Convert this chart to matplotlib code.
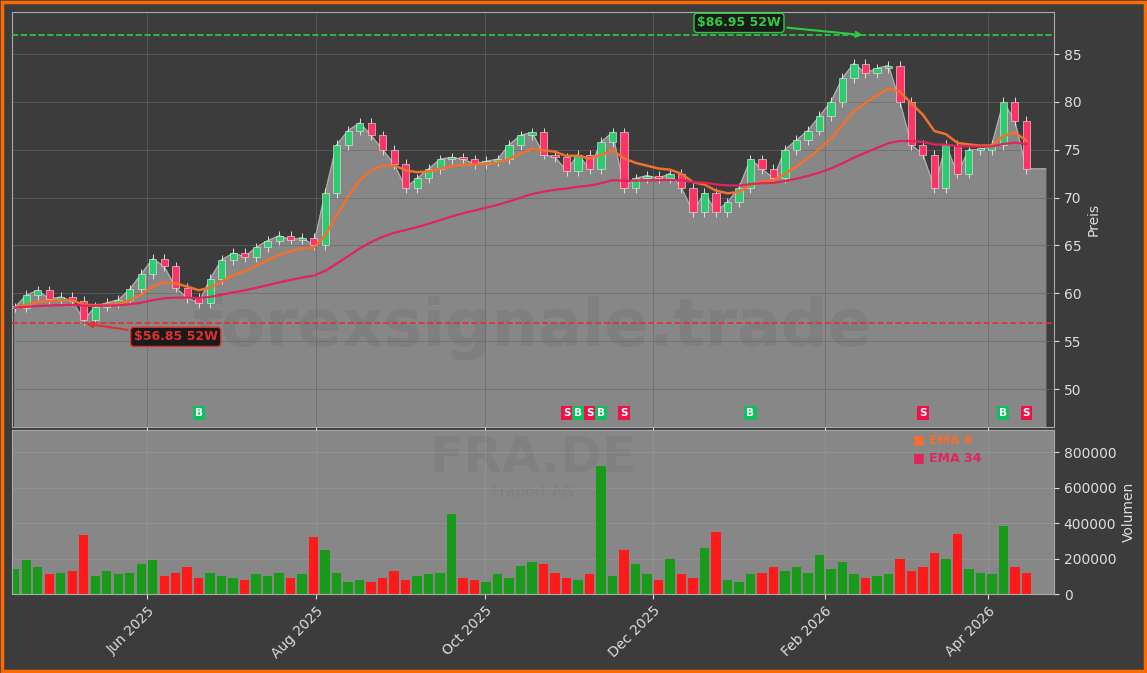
import numpy as np
import pandas as pd
import matplotlib
matplotlib.use("Agg")
import matplotlib.pyplot as plt
import matplotlib.dates as mdates

# ---- data (one bar ~ 3 trading days) ----
closes = [58.5, 59.8, 60.3, 59.4, 59.6, 59.2, 57.2, 58.6, 59.0, 59.3,
          60.4, 62.0, 63.6, 62.8, 60.6, 59.5, 59.0, 61.5, 63.5, 64.2,
          63.8, 64.8, 65.5, 66.0, 65.6, 65.8, 65.0, 70.5, 75.5, 77.0,
          77.8, 76.5, 75.0, 73.5, 71.0, 72.0, 73.0, 74.0, 74.2, 74.0,
          73.5, 73.8, 74.0, 75.5, 76.5, 76.8, 74.5, 74.2, 72.8, 74.5,
          73.0, 75.8, 76.8, 71.0, 72.0, 72.3, 72.0, 72.5, 71.0, 68.5,
          70.5, 68.5, 69.5, 71.0, 74.0, 73.0, 72.0, 75.0, 76.0, 77.0,
          78.5, 80.0, 82.5, 84.0, 83.0, 83.5, 83.8, 80.0, 75.5, 74.5,
          71.0, 75.5, 72.5, 75.0, 75.0, 75.5, 80.0, 78.0, 73.0]
volumes = [140, 190, 150, 110, 120, 130, 330, 100, 130, 110,
           120, 170, 190, 100, 120, 150, 90, 120, 100, 90,
           80, 110, 100, 120, 90, 110, 320, 250, 120, 70,
           80, 70, 90, 130, 80, 100, 110, 120, 450, 90,
           80, 70, 110, 90, 160, 180, 170, 120, 90, 80,
           110, 720, 100, 250, 170, 110, 80, 200, 110, 90,
           260, 350, 80, 70, 110, 120, 150, 130, 150, 120,
           220, 140, 180, 110, 90, 100, 110, 200, 130, 150,
           230, 200, 340, 140, 120, 110, 385, 150, 120]
buy_idx = [16, 49, 51, 64, 86]
sell_idx = [48, 50, 53, 79, 88]
high_52w, low_52w = 86.95, 56.85
high_52w_idx, low_52w_idx = 74, 6

dates = pd.date_range("2025-04-14", "2026-04-15", periods=len(closes))
c = pd.Series(closes, index=dates)
o = c.shift(1).fillna(c.iloc[0])
hi = np.maximum(o, c) + 0.5
lo = np.minimum(o, c) - 0.5
vol = np.array(volumes) * 1000
ema8 = c.ewm(span=8, adjust=False).mean()
ema34 = c.ewm(span=34, adjust=False).mean()

BG = "#3c3c3c"
FILL = "#878787"
fig = plt.figure(figsize=(11.47, 6.73), dpi=100, facecolor=BG)
fig.patches.append(plt.Rectangle((0.002, 0.003), 0.996, 0.994, transform=fig.transFigure,
                                 fill=False, ec="#ff6a00", lw=2.5))
ax = fig.add_axes([12/1147, 1-427/673, 1042/1147, 415/673], facecolor=BG)
axv = fig.add_axes([12/1147, 1-594/673, 1042/1147, 164/673], facecolor=FILL, sharex=ax)

xend = pd.Timestamp("2026-04-22")
ax.fill_between(list(dates) + [xend], list(closes) + [closes[-1]], 0, color=FILL, zorder=1)
ax.plot(list(dates) + [xend], list(closes) + [closes[-1]], color="#b0b0b0", lw=0.8, zorder=2)
w = pd.Timedelta(days=2.6)
for d, op, cl, h, l in zip(dates, o, c, hi, lo):
    col = "#2ecc71" if cl >= op else "#ff3366"
    ax.vlines(d, l, h, color="#dddddd", lw=0.7, zorder=3)
    ax.bar(d, max(abs(cl - op), 0.15), bottom=min(op, cl), width=w, color=col,
           edgecolor="#eeeeee", lw=0.4, zorder=4)
ax.plot(dates, ema8, color="#f07030", lw=1.8, zorder=5)
ax.plot(dates, ema34, color="#e0245e", lw=1.6, zorder=5)

ax.axhline(high_52w, color="#2ecc40", ls="--", lw=1.2, zorder=5)
ax.axhline(low_52w, color="#e03030", ls="--", lw=1.2, zorder=5)
ax.annotate(f"${high_52w:.2f} 52W", xy=(dates[high_52w_idx], high_52w),
            xytext=(dates[high_52w_idx - 11], high_52w + 1.3), color="#2ecc40",
            fontsize=9, fontweight="bold", ha="center", va="center",
            bbox=dict(boxstyle="round,pad=0.25", fc="#1a1a1a", ec="#2ecc40"),
            arrowprops=dict(arrowstyle="->", color="#2ecc40", lw=1.5), zorder=8)
ax.annotate(f"${low_52w:.2f} 52W", xy=(dates[low_52w_idx], low_52w),
            xytext=(dates[low_52w_idx + 8], low_52w - 1.4), color="#e03030",
            fontsize=9, fontweight="bold", ha="center", va="center",
            bbox=dict(boxstyle="round,pad=0.25", fc="#1a1a1a", ec="#e03030"),
            arrowprops=dict(arrowstyle="->", color="#e03030", lw=1.5), zorder=8)

for i in buy_idx:
    ax.text(dates[i], 47.5, "B", color="white", fontsize=7.5, fontweight="bold", ha="center",
            va="center", bbox=dict(boxstyle="square,pad=0.2", fc="#0fbf5f", ec="none"), zorder=8)
for i in sell_idx:
    ax.text(dates[i], 47.5, "S", color="white", fontsize=7.5, fontweight="bold", ha="center",
            va="center", bbox=dict(boxstyle="square,pad=0.2", fc="#f0104a", ec="none"), zorder=8)

ax.text(0.5, 0.24, "forexsignale.trade", transform=ax.transAxes, fontsize=47,
        fontweight="bold", color="#7f7f7f", ha="center", va="center", zorder=1.5)
axv.text(0.5, 0.83, "FRA.DE", transform=axv.transAxes, fontsize=36, fontweight="bold",
         color="#808080", ha="center", va="center", zorder=0.5)
axv.text(0.5, 0.62, "Fraport AG", transform=axv.transAxes, fontsize=11,
         color="#808080", ha="center", va="center", zorder=0.5)

ax.set_ylim(46.03, 89.39)
ax.set_xlim(pd.Timestamp("2025-04-13"), pd.Timestamp("2026-04-25"))
ax.yaxis.tick_right()
ax.yaxis.set_label_position("right")
ax.set_yticks([50, 55, 60, 65, 70, 75, 80, 85])
ax.set_ylabel("Preis", color="#dddddd")
ax.grid(color="#666666", lw=0.6, alpha=0.7)
ax.tick_params(colors="#dddddd", labelbottom=False)

vcols = ["#1a9a1a" if cl >= op else "#ff1a1a" for op, cl in zip(o, c)]
axv.bar(dates, vol, width=pd.Timedelta(days=3.4), color=vcols, zorder=2)
axv.set_ylim(0, 924000)
axv.yaxis.tick_right()
axv.yaxis.set_label_position("right")
axv.set_yticks([0, 200000, 400000, 600000, 800000])
axv.set_ylabel("Volumen", color="#dddddd")
axv.grid(color="#999999", lw=0.6, alpha=0.6)
axv.tick_params(colors="#dddddd")
axv.xaxis.set_major_locator(mdates.MonthLocator(bymonth=[2, 4, 6, 8, 10, 12]))
axv.xaxis.set_major_formatter(mdates.DateFormatter("%b %Y"))
plt.setp(axv.get_xticklabels(), rotation=45, ha="right", rotation_mode="anchor")
axv.text(0.865, 0.92, "■ EMA 8", transform=axv.transAxes, color="#f07030", fontsize=9, fontweight="bold")
axv.text(0.865, 0.81, "■ EMA 34", transform=axv.transAxes, color="#e0245e", fontsize=9, fontweight="bold")
for a in (ax, axv):
    for s in a.spines.values():
        s.set_color("#aaaaaa")

fig.savefig("out.png", dpi=100, facecolor=BG)
